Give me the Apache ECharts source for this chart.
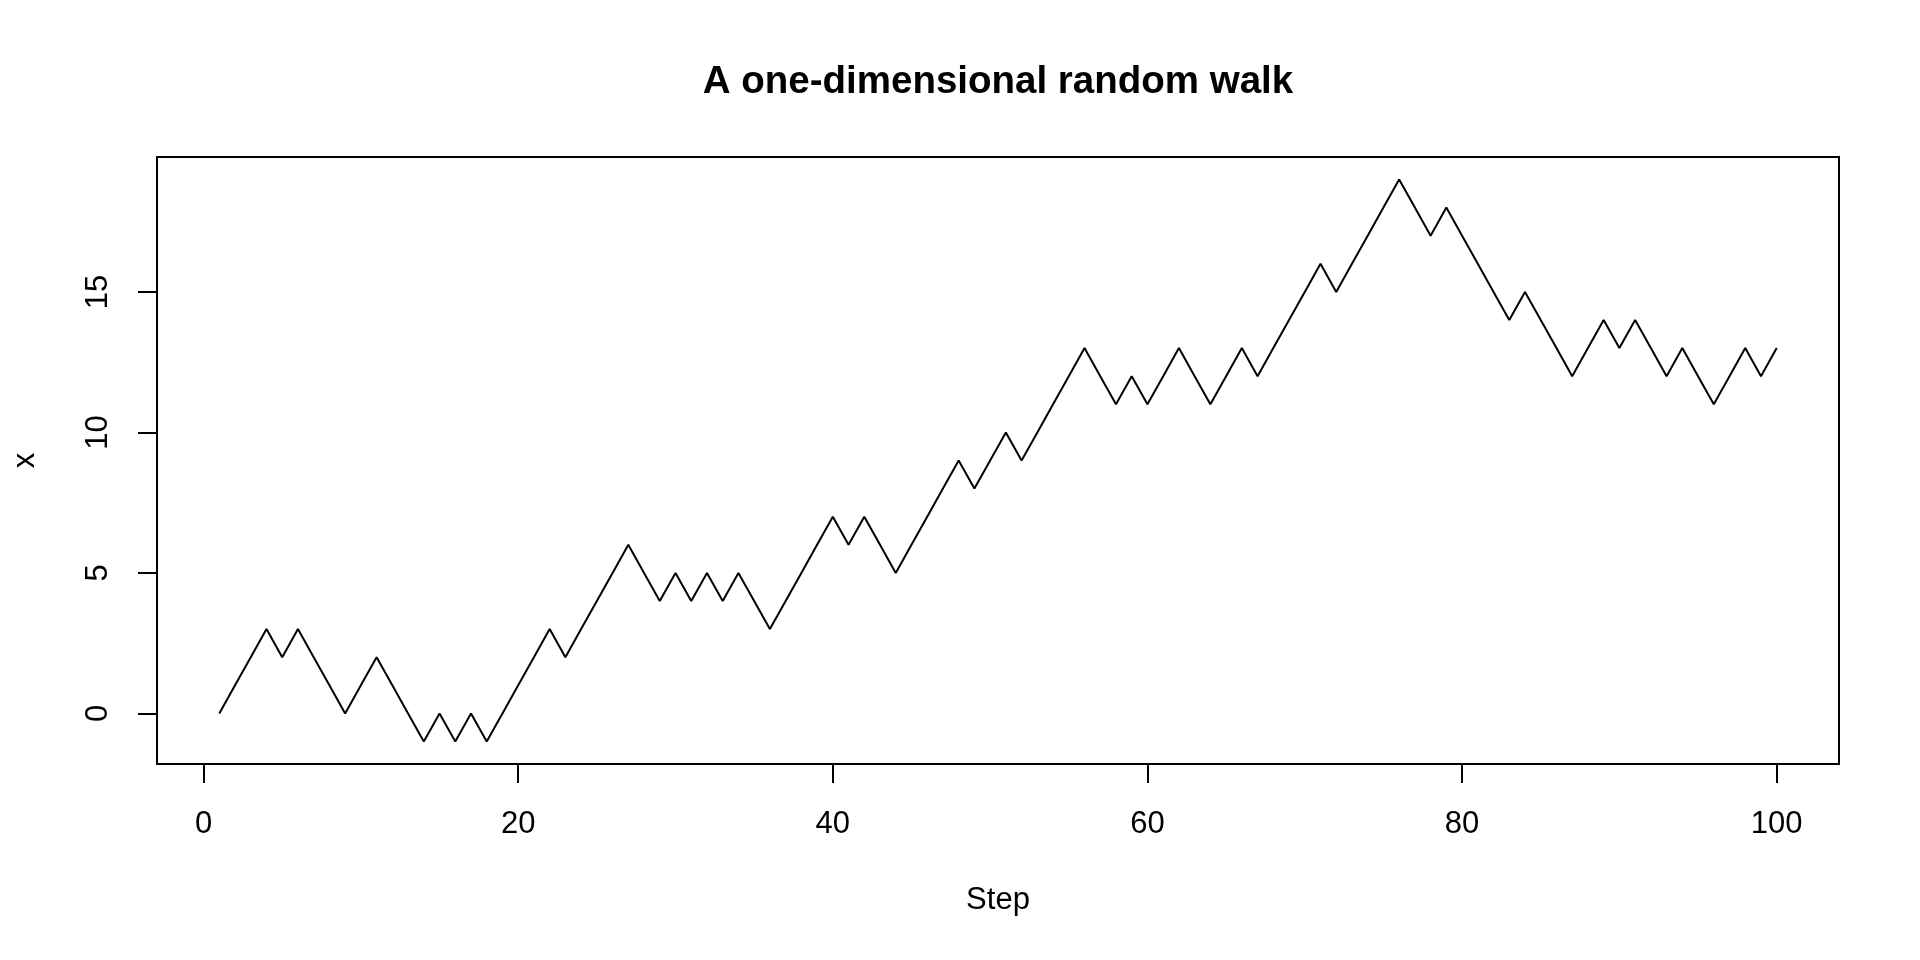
<!DOCTYPE html>
<html>
<head>
<meta charset="utf-8">
<script src="https://cdn.jsdelivr.net/npm/echarts@6/dist/echarts.min.js"></script>
<style>
html,body{margin:0;padding:0;background:#fff;}
#chart{width:1920px;height:960px;}
</style>
</head>
<body>
<div id="chart"></div>
<script>
const steps = Array.from({length: 100}, (_, i) => i + 1);
const walk = [
  0, 1, 2, 3, 2, 3, 2, 1, 0, 1,
  2, 1, 0, -1, 0, -1, 0, -1, 0, 1,
  2, 3, 2, 3, 4, 5, 6, 5, 4, 5,
  4, 5, 4, 5, 4, 3, 4, 5, 6, 7,
  6, 7, 6, 5, 6, 7, 8, 9, 8, 9,
  10, 9, 10, 11, 12, 13, 12, 11, 12, 11,
  12, 13, 12, 11, 12, 13, 12, 13, 14, 15,
  16, 15, 16, 17, 18, 19, 18, 17, 18, 17,
  16, 15, 14, 15, 14, 13, 12, 13, 14, 13,
  14, 13, 12, 13, 12, 11, 12, 13, 12, 13
];
const xTicks = [0, 20, 40, 60, 80, 100];
const yTicks = [0, 5, 10, 15];
const titleText = 'A one-dimensional random walk';
const xName = 'Step';
const yName = 'x';

const FONT = '"Liberation Sans", Arial, Helvetica, sans-serif';
const chart = echarts.init(document.getElementById('chart'), null, {renderer: 'canvas'});
chart.setOption({
  animation: false,
  backgroundColor: '#fff',
  title: {
    text: titleText,
    left: 993,
    textAlign: 'center',
    top: 58,
    textStyle: {fontFamily: FONT, fontWeight: 'bold', fontSize: 38.5, color: '#000'}
  },
  grid: {
    left: 157, right: 81, top: 157, bottom: 196,
    show: true, borderColor: '#000', borderWidth: 2, backgroundColor: 'transparent'
  },
  xAxis: {
    type: 'value',
    min: -2.96, max: 103.96,
    name: xName, nameLocation: 'middle', nameGap: 121,
    nameTextStyle: {fontFamily: FONT, fontSize: 31, color: '#000'},
    axisLine: {show: false, onZero: false},
    axisTick: {show: true, customValues: xTicks, length: 19, lineStyle: {color: '#000', width: 2}},
    axisLabel: {customValues: xTicks, margin: 45, fontFamily: FONT, fontSize: 31, color: '#000'},
    splitLine: {show: false}
  },
  yAxis: {
    type: 'value',
    min: -1.8, max: 19.8,
    name: yName, nameLocation: 'middle', nameGap: 116, nameRotate: 90,
    nameTextStyle: {fontFamily: FONT, fontSize: 31, color: '#000'},
    axisLine: {show: false, onZero: false},
    axisTick: {show: true, customValues: yTicks, length: 19, lineStyle: {color: '#000', width: 2}},
    axisLabel: {customValues: yTicks, rotate: 90, margin: 43, fontFamily: FONT, fontSize: 31, color: '#000'},
    splitLine: {show: false}
  },
  series: [{
    type: 'line',
    data: steps.map((s, i) => [s, walk[i]]),
    symbol: 'none',
    lineStyle: {color: '#000', width: 2},
    itemStyle: {color: '#000'}
  }]
});
</script>
</body>
</html>
